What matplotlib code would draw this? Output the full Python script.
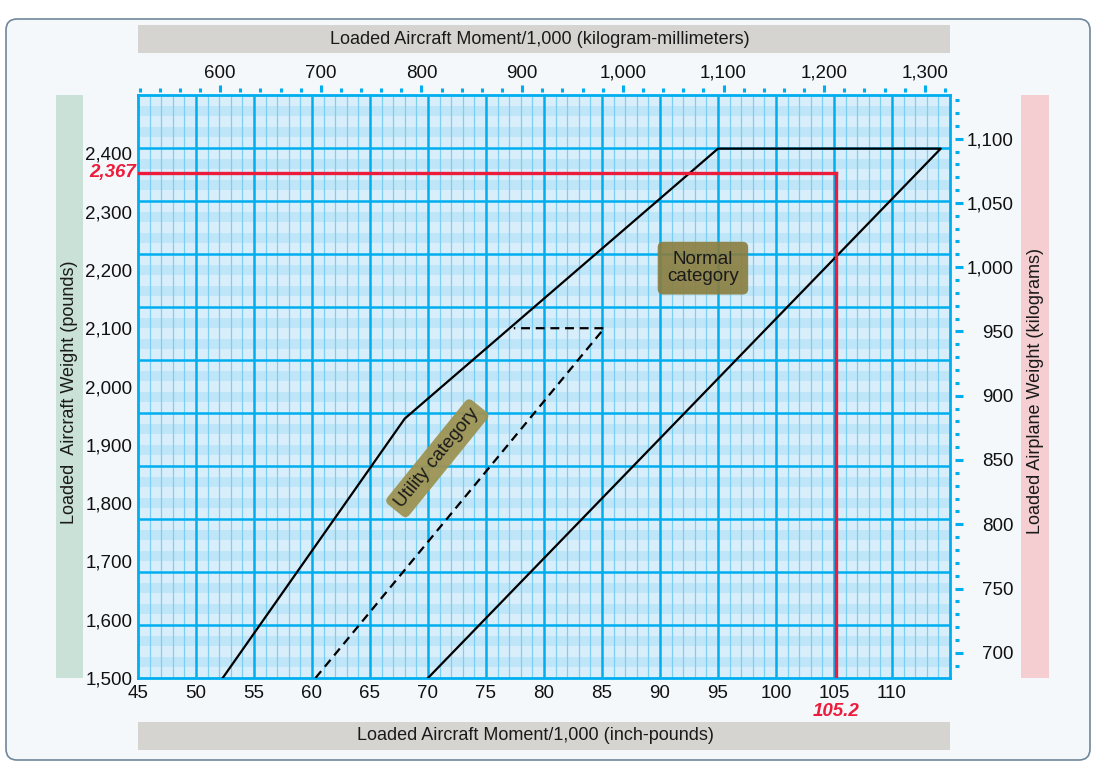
import numpy as np
import matplotlib.pyplot as plt
from matplotlib.patches import FancyBboxPatch, Rectangle
from matplotlib.ticker import MultipleLocator, FuncFormatter
import matplotlib.transforms as mtransforms

plt.rcParams['font.family'] = ['Liberation Sans', 'DejaVu Sans']

# envelope data (moment/1000 in-lb, weight lb)
normal_moment = [52.3, 68.0, 95.0, 114.2, 70.0]
normal_weight = [1500, 1945, 2408, 2408, 1500]
utility_moment = [60.3, 85.2, 77.4]
utility_weight = [1500, 2100, 2100]

# example point
ex_weight = 2367
ex_moment = 105.2

x_ticks = list(range(45, 115, 5))
y_ticks = list(range(1500, 2500, 100))
kgmm_ticks = list(range(600, 1400, 100))
kg_ticks = list(range(700, 1150, 50))

W, H = 1101, 776
fig = plt.figure(figsize=(W / 100, H / 100), dpi=100)
fig.patch.set_facecolor('white')

def fx(x):
    return x / W

def fy(y):
    return 1 - y / H

# outer rounded frame
frame = FancyBboxPatch((fx(6), fy(760)), fx(1090) - fx(6), fy(19) - fy(760),
                       boxstyle='round,pad=0,rounding_size=0.01', mutation_aspect=W / H,
                       transform=fig.transFigure, fc='#f4f8fb', ec='#6f879c', lw=1.2, zorder=0)
fig.add_artist(frame)

# label bands
def band(x0, y0, x1, y1, color):
    r = Rectangle((fx(x0), fy(y1)), fx(x1) - fx(x0), fy(y0) - fy(y1),
                  transform=fig.transFigure, fc=color, ec='none', zorder=1)
    fig.add_artist(r)

band(138, 25, 950, 53, '#d6d4d0')
band(138, 722, 950, 750, '#d6d4d0')
band(56, 95, 83, 678, '#c9e1d7')
band(1021, 95, 1049, 678, '#f5ced1')

fig.text(fx(540), fy(39), 'Loaded Aircraft Moment/1,000 (kilogram-millimeters)',
         ha='center', va='center', fontsize=13, color='#1a1a1a')
fig.text(fx(535), fy(736), 'Loaded Aircraft Moment/1,000 (inch-pounds)',
         ha='center', va='center', fontsize=13, color='#1a1a1a')
fig.text(fx(69.5), fy(392), 'Loaded  Aircraft Weight (pounds)', rotation=90,
         ha='center', va='center', fontsize=13, color='#1a1a1a')
fig.text(fx(1035), fy(391), 'Loaded Airplane Weight (kilograms)', rotation=90,
         ha='center', va='center', fontsize=13, color='#1a1a1a')

ax = fig.add_axes([fx(138), fy(678), fx(950) - fx(138), fy(95) - fy(678)])
ax.set_xlim(45, 115)
ax.set_ylim(1500, 2500)
ax.set_facecolor('#d8effb')

cyan = '#00aeef'
# grid rows: 11 equal rows, each shaded light/dark/light/dark/light
row = 1000 / 11
sub = row / 5
for k in range(11):
    base = 1500 + k * row
    for j in (1, 3):
        ax.axhspan(base + j * sub, base + (j + 1) * sub, color='#bfe5f8', lw=0, zorder=0)

# grid
for v in range(46, 115):
    if v % 5:
        ax.axvline(v, color='#7ccff2', lw=0.9, zorder=1)
for v in range(50, 115, 5):
    ax.axvline(v, color=cyan, lw=1.8, zorder=2)
for k in range(1, 11):
    ax.axhline(1500 + k * row, color=cyan, lw=1.8, zorder=2)
for s in ax.spines.values():
    s.set_color(cyan)
    s.set_linewidth(2)

ax.set_xticks(x_ticks)
ax.set_yticks(y_ticks)
ax.yaxis.set_major_formatter(FuncFormatter(lambda v, p: f'{int(v):,}'))
ax.tick_params(axis='x', length=0, labelsize=13.5, pad=5, labelcolor='#111111')
ax.tick_params(axis='y', length=0, labelsize=13.5, pad=4, labelcolor='#111111')

# envelopes
ax.plot(normal_moment, normal_weight, color='black', lw=1.6, zorder=4)
ax.plot(utility_moment, utility_weight, color='black', lw=1.6, ls='--',
        dashes=(4, 2.6), zorder=4)

# example lines
red = '#ec1c3c'
ax.plot([45, ex_moment], [ex_weight, ex_weight], color=red, lw=2.4, zorder=5)
ax.plot([ex_moment, ex_moment], [ex_weight, 1500], color=red, lw=2.4, zorder=5)
tr_y = mtransforms.blended_transform_factory(ax.transAxes, ax.transData)
tr_x = mtransforms.blended_transform_factory(ax.transData, ax.transAxes)
ax.text(-0.003, ex_weight, f'{ex_weight:,}', transform=tr_y, ha='right', va='center',
        color=red, fontsize=13.5, fontweight='bold', fontstyle='italic')
ax.text(ex_moment, -0.058, f'{ex_moment}', transform=tr_x, ha='center', va='center',
        color=red, fontsize=13.5, fontweight='bold', fontstyle='italic')

# category labels
ax.text(93.7, 2203, 'Normal\ncategory', ha='center', va='center', fontsize=13.5,
        linespacing=1.0, color='#1a1a1a', zorder=6,
        bbox=dict(boxstyle='round,pad=0.5,rounding_size=0.3', fc='#8a7d3e', ec='none', alpha=0.9))
ax.text(70.8, 1877, 'Utility category', ha='center', va='center', fontsize=13.5,
        rotation=51, rotation_mode='anchor', color='#1a1a1a', zorder=6,
        bbox=dict(boxstyle='round,pad=0.3,rounding_size=0.3', fc='#9d9353', ec='none', alpha=0.95))

# top axis: kilogram-millimeters
kgmm = 0.45359237 * 25.4
secx = ax.secondary_xaxis(1.006, functions=(lambda m: m * kgmm, lambda k: k / kgmm))
secx.set_xticks(kgmm_ticks)
secx.xaxis.set_minor_locator(MultipleLocator(20))
secx.xaxis.set_major_formatter(FuncFormatter(lambda v, p: f'{int(v):,}'))
for s in secx.spines.values():
    s.set_visible(False)
secx.tick_params(which='major', direction='out', length=5, width=2.2, color=cyan,
                 labelsize=13.5, pad=2, labelcolor='#111111')
secx.tick_params(which='minor', direction='out', length=3, width=2.2, color=cyan)

# right axis: kilograms
lb2kg = 0.45359237
secy = ax.secondary_yaxis(1.006, functions=(lambda w: w * lb2kg, lambda k: k / lb2kg))
secy.set_yticks(kg_ticks)
secy.yaxis.set_minor_locator(MultipleLocator(10))
secy.yaxis.set_major_formatter(FuncFormatter(lambda v, p: f'{int(v):,}'))
for s in secy.spines.values():
    s.set_visible(False)
secy.tick_params(which='major', direction='out', length=6, width=2.2, color=cyan,
                 labelsize=13.5, pad=36, labelcolor='#111111')
secy.tick_params(which='minor', direction='out', length=3, width=2.2, color=cyan)
for t in secy.get_yticklabels():
    t.set_horizontalalignment('right')

fig.savefig('out.png', dpi=100)
